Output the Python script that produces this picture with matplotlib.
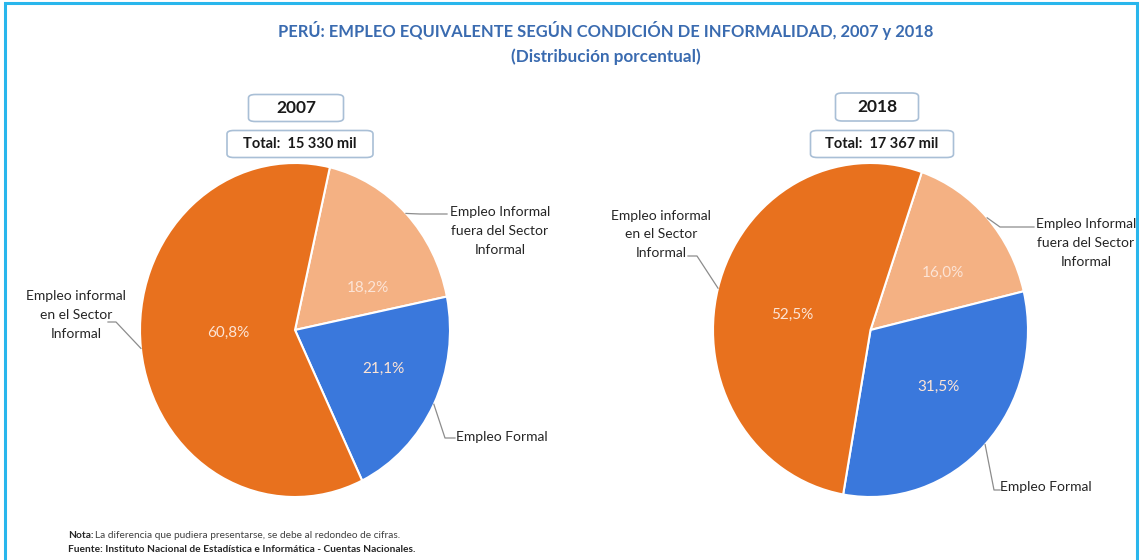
import matplotlib
matplotlib.use("Agg")
import matplotlib.pyplot as plt
from matplotlib.lines import Line2D
from matplotlib.patches import FancyBboxPatch, Rectangle
import numpy as np

W, H = 1141, 560
FONT = "Lato"

# Data
years = ["2007", "2018"]
totals = ["Total:  15 330 mil", "Total:  17 367 mil"]
categories = ["Empleo Informal\nfuera del Sector\nInformal",
              "Empleo Formal",
              "Empleo informal\nen el Sector\nInformal"]
shares_2007 = [18.2, 21.1, 60.8]
shares_2018 = [16.0, 31.5, 52.5]
colors = ["#F4B183", "#3A78DC", "#E8711E"]

title = "PERÚ: EMPLEO EQUIVALENTE SEGÚN CONDICIÓN DE INFORMALIDAD, 2007 y 2018"
subtitle = "(Distribución porcentual)"


def px(x, y):
    return x / W, 1 - y / H


fig = plt.figure(figsize=(W / 100, H / 100), dpi=100)
fig.patch.set_facecolor("white")

# outer frame
fig.add_artist(Rectangle(px(5, 600), (1137 - 5) / W, (600 - 3) / H,
                         transform=fig.transFigure, fill=False,
                         edgecolor="#29B6EC", linewidth=2.2))

fig.text(*px(606, 31), title, ha="center", va="center", fontsize=11.9,
         fontweight="bold", color="#3A6BB0", family=FONT)
fig.text(*px(606, 57), subtitle, ha="center", va="center", fontsize=12.3,
         fontweight="bold", color="#3A6BB0", family=FONT)


def boxed(cx, cy, w, h, text, size):
    x0, y1 = px(cx - w / 2, cy + h / 2)
    fig.add_artist(FancyBboxPatch((x0, y1), w / W, h / H,
                                  boxstyle="round,pad=0,rounding_size=0.006",
                                  transform=fig.transFigure, facecolor="white",
                                  edgecolor="#A9BFD6", linewidth=1.2))
    fig.text(*px(cx, cy), text, ha="center", va="center", fontsize=size,
             fontweight="bold", color="#1A1A1A", family=FONT)


# pie settings per panel: axes box in pixels, start angle, label layout
panels = [
    dict(shares=shares_2007, box=(140, 163, 450, 497), start=77,
         year_box=(296, 108, 95, 27), total_box=(300, 144, 146, 27),
         pct_xy=[(0.47, 0.25), (0.57, -0.23), (-0.43, -0.02)],
         labels=[
             dict(pos=(500, 231), ha="center", path=[(420, 214), (447, 214)]),
             dict(pos=(456, 437), ha="left", path=[(445, 438), (455, 438)]),
             dict(pos=(76, 315), ha="center", path=[(116, 322), (108, 322)]),
         ]),
    dict(shares=shares_2018, box=(713, 163, 1028, 497), start=71,
         year_box=(877, 107, 83, 28), total_box=(882, 144, 143, 27),
         pct_xy=[(0.46, 0.34), (0.43, -0.34), (-0.50, 0.09)],
         labels=[
             dict(pos=(1086, 243), ha="center", path=[(1000, 227), (1034, 227)]),
             dict(pos=(1000, 487), ha="left", path=[(994, 490), (1000, 490)]),
             dict(pos=(661, 234), ha="center", path=[(697, 256), (688, 256)]),
         ]),
]

for i, p in enumerate(panels):
    x0, y0, x1, y1 = p["box"]
    left, bottom = px(x0, y1)
    ax = fig.add_axes([left, bottom, (x1 - x0) / W, (y1 - y0) / H])
    wedges, _ = ax.pie(p["shares"], colors=colors, startangle=p["start"],
                       counterclock=False,
                       wedgeprops=dict(edgecolor="white", linewidth=1.5))
    ax.set_aspect("auto")
    ax.set_xlim(-1, 1)
    ax.set_ylim(-1, 1)
    ax.axis("off")

    for val, (tx, ty) in zip(p["shares"], p["pct_xy"]):
        ax.text(tx, ty, f"{val:.1f}%".replace(".", ","),
                ha="center", va="center", fontsize=11, color="#FCE4D6",
                family=FONT)

    fig.canvas.draw()
    for w, cat, lab in zip(wedges, categories, p["labels"]):
        mid = np.deg2rad((w.theta1 + w.theta2) / 2)
        dx, dy = ax.transData.transform((np.cos(mid), np.sin(mid)))
        start = (dx / W, dy / H)
        pts = [start] + [px(*q) for q in lab["path"]]
        xs, ys = zip(*pts)
        fig.add_artist(Line2D(xs, ys, transform=fig.transFigure,
                              color="#8C8C8C", linewidth=0.9))
        fig.text(*px(*lab["pos"]), cat, ha=lab["ha"], va="center",
                 fontsize=10, color="#262626", family=FONT,
                 linespacing=1.65, multialignment="center")

    boxed(*p["year_box"], years[i], 12.5)
    boxed(*p["total_box"], totals[i], 10.5)

fig.text(*px(68, 535), "Nota:", ha="left", va="center", fontsize=7.3,
         fontweight="bold", color="#262626", family=FONT)
fig.text(*px(95, 535), "La diferencia que pudiera presentarse, se debe al redondeo de cifras.",
         ha="left", va="center", fontsize=7.3, color="#404040", family=FONT)
fig.text(*px(68, 550),
         "Fuente: Instituto Nacional de Estadística e Informática - Cuentas Nacionales.",
         ha="left", va="center", fontsize=7.3, fontweight="bold",
         color="#262626", family=FONT)

fig.savefig("out.png", dpi=100, facecolor="white")
